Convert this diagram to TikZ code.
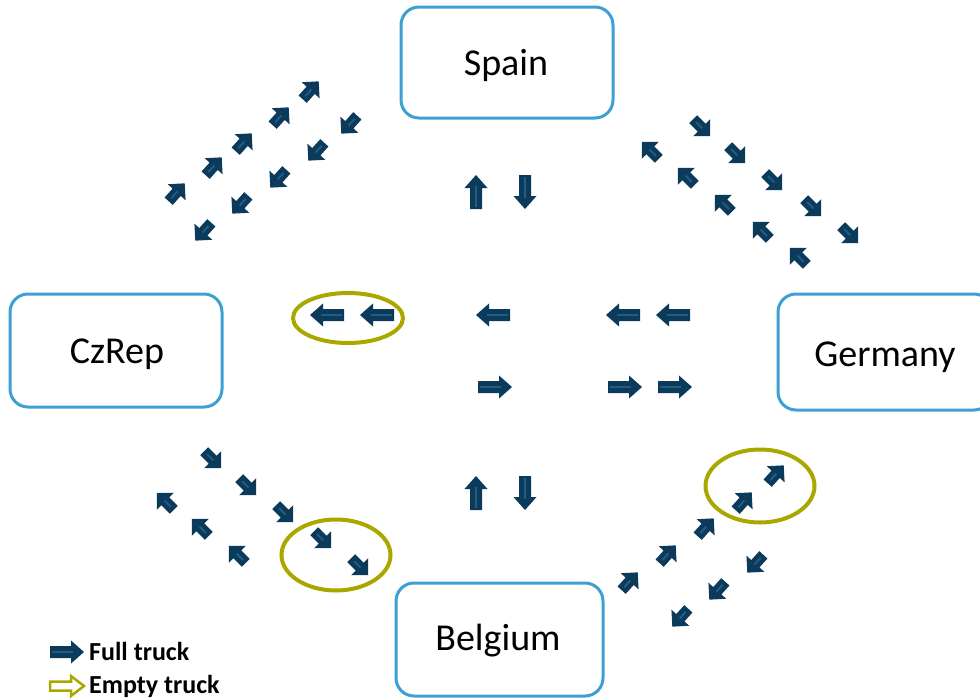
\documentclass[tikz,border=0pt]{standalone}
\usepackage{fontspec}
\setmainfont{Carlito}
\usetikzlibrary{shapes.geometric}
\definecolor{navy}{RGB}{12,58,90}
\definecolor{stripecol}{RGB}{32,92,132}
\definecolor{boxblue}{RGB}{61,159,211}
\definecolor{olivec}{RGB}{170,168,0}
\tikzset{
  truck/.pic={
    \fill[navy] (-17,-6) -- (4,-6) -- (4,-11.5) -- (17,0) -- (4,11.5) -- (4,6) -- (-17,6) -- cycle;
    \draw[stripecol, line width=2] (-15,0) -- (6,0);
  },
  dtruck/.pic={
    \fill[navy] (-11,-5.5) -- (1,-5.5) -- (1,-12) -- (13,0) -- (1,12) -- (1,5.5) -- (-11,5.5) -- cycle;
    \draw[stripecol, line width=2] (-7,0) -- (2,0);
  },
  emptytruck/.pic={
    \draw[olivec, fill=white, line width=2.5, line join=miter] (-17,-4.5) -- (4,-4.5) -- (4,-10) -- (17,0) -- (4,10) -- (4,4.5) -- (-17,4.5) -- cycle;
  },
  country/.style={draw=boxblue, line width=3, rounded corners=18, fill=white, inner sep=0pt},
  clabel/.style={font=\fontsize{38}{42}\selectfont, inner sep=0pt},
  ring/.style={draw=olivec, line width=4, ellipse, inner sep=0pt},
  legend/.style={anchor=west, font=\fontsize{26}{28}\selectfont\bfseries, inner sep=0pt},
}
\begin{document}
\begin{tikzpicture}[x=1pt,y=-1pt]
\useasboundingbox (0,0) rectangle (980,699);
\clip (0,0) rectangle (980,699);
% country boxes
\node[country, minimum width=212, minimum height=111] (spainbox) at (507,62.5) {};
\node[clabel] (spain) at (506,65) {Spain};
\node[country, minimum width=212, minimum height=113] (czrepbox) at (116,350.5) {};
\node[clabel] (czrep) at (117,354) {CzRep};
\node[country, minimum width=214, minimum height=116] (germanybox) at (885,352) {};
\node[clabel] (germany) at (885,357) {Germany};
\node[country, minimum width=207, minimum height=113] (belgiumbox) at (499.5,639.5) {};
\node[clabel] (belgium) at (498,641) {Belgium};
% rings
\node[ring, minimum width=110, minimum height=50] (r1) at (348,318) {};
\node[ring, minimum width=109, minimum height=71] (r2) at (336,555) {};
\node[ring, minimum width=109, minimum height=73] (r3) at (760,486) {};
% middle horizontal
\foreach \x in {327,377,493,623,673} \pic[rotate=180] at (\x,315) {truck};
\foreach \x in {495,625,675} \pic at (\x,387) {truck};
% vertical
\pic[rotate=90] at (476,192) {truck};
\pic[rotate=-90] at (525,192) {truck};
\pic[rotate=90] at (476,493) {truck};
\pic[rotate=-90] at (525,493) {truck};
% top-left
\foreach \x/\y in {176/193,213/167,243/143,280/117,310/91} \pic[rotate=48] at (\x,\y) {dtruck};
\foreach \x/\y in {204/231,241/204,279/178,317/151,350/124} \pic[rotate=228] at (\x,\y) {dtruck};
% top-right
\foreach \x/\y in {701/127,736/154,773/181,812/207,849/234} \pic[rotate=-45] at (\x,\y) {dtruck};
\foreach \x/\y in {651/151,687/177,724/204,762/231,799/257} \pic[rotate=135] at (\x,\y) {dtruck};
% bottom-left
\foreach \x/\y in {212/459,247/486,284/513,322/539,359/566} \pic[rotate=-45] at (\x,\y) {dtruck};
\foreach \x/\y in {166/502,201/528,238/555} \pic[rotate=135] at (\x,\y) {dtruck};
% bottom-right
\foreach \x/\y in {775/475,743/502,705/528,667/555,629/582} \pic[rotate=48] at (\x,\y) {dtruck};
\foreach \x/\y in {756/563,718/590,681/617} \pic[rotate=228] at (\x,\y) {dtruck};
% legend
\pic at (67,652) {truck};
\pic at (67,686) {emptytruck};
\node[legend] (lfull) at (89,651) {Full truck};
\node[legend] (lempty) at (89,686) {Empty truck};
\end{tikzpicture}
\end{document}
